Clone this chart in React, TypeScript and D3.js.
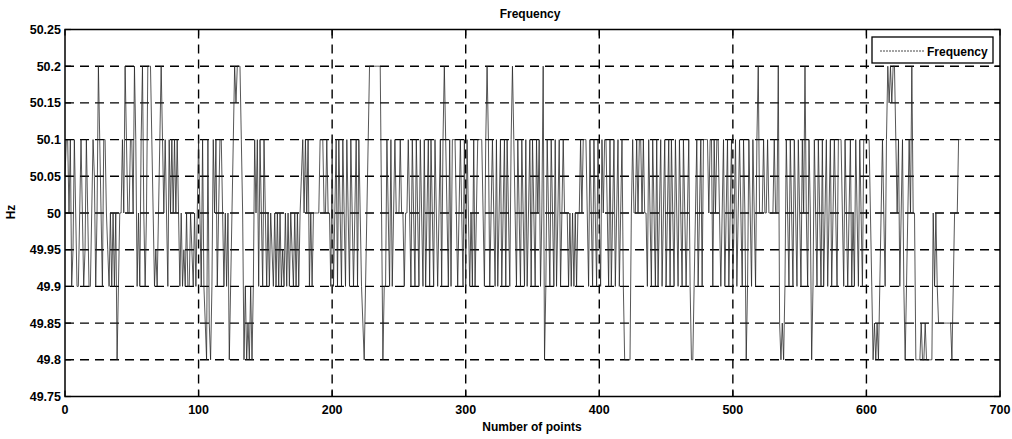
import React from "react";
import { scaleLinear, line } from "d3";

// quantised frequency levels (Hz); the series below stores the level index
const levelHz = [49.8, 49.85, 49.9, 49.95, 50, 50.05, 50.1, 50.15, 50.2];

// one row = 10 samples (0 = 49.8 ... 8 = 50.2)
const freqCode = [
  5, 6, 6, 4, 6, 2, 3, 6, 4, 2,
  2, 4, 6, 4, 2, 3, 6, 4, 2, 2,
  4, 6, 5, 2, 4, 8, 6, 4, 2, 6,
  6, 4, 3, 2, 4, 2, 4, 2, 4, 0,
  2, 4, 4, 6, 4, 8, 6, 4, 4, 6,
  6, 4, 8, 6, 2, 4, 2, 6, 8, 4,
  2, 4, 8, 8, 8, 6, 4, 2, 3, 2,
  4, 6, 8, 6, 4, 6, 4, 2, 6, 4,
  6, 4, 6, 4, 6, 4, 2, 4, 2, 3,
  2, 4, 2, 2, 4, 3, 2, 4, 2, 4,
  6, 4, 2, 6, 2, 1, 0, 6, 1, 0,
  2, 6, 4, 6, 2, 4, 6, 6, 4, 2,
  4, 2, 4, 0, 2, 4, 6, 8, 7, 8,
  8, 8, 6, 4, 0, 2, 0, 1, 0, 2,
  0, 2, 6, 4, 6, 2, 6, 4, 2, 6,
  4, 2, 4, 2, 4, 3, 2, 4, 2, 4,
  2, 4, 2, 3, 2, 4, 2, 4, 2, 4,
  3, 2, 4, 2, 4, 2, 4, 5, 6, 4,
  6, 4, 6, 2, 4, 2, 4, 4, 4, 4,
  4, 6, 6, 6, 4, 4, 6, 4, 4, 2,
  6, 2, 4, 6, 2, 6, 4, 2, 6, 4,
  2, 6, 4, 2, 6, 4, 2, 4, 6, 2,
  6, 4, 2, 1, 0, 2, 4, 6, 8, 8,
  8, 8, 8, 8, 8, 8, 8, 4, 0, 2,
  2, 6, 4, 2, 6, 2, 4, 6, 4, 4,
  4, 6, 4, 4, 2, 4, 4, 6, 4, 2,
  6, 4, 2, 6, 4, 2, 6, 4, 2, 6,
  2, 4, 6, 2, 6, 4, 2, 6, 4, 2,
  4, 6, 2, 6, 8, 6, 4, 2, 6, 2,
  6, 6, 6, 4, 2, 4, 6, 4, 2, 6,
  2, 6, 4, 2, 4, 2, 6, 2, 4, 6,
  6, 6, 6, 4, 2, 6, 8, 6, 2, 4,
  6, 4, 2, 6, 2, 4, 6, 2, 4, 6,
  2, 6, 4, 2, 6, 8, 6, 4, 2, 6,
  4, 2, 6, 4, 2, 6, 2, 4, 6, 2,
  6, 4, 2, 6, 4, 6, 2, 4, 8, 0,
  2, 6, 4, 2, 6, 4, 2, 6, 2, 4,
  6, 2, 4, 6, 4, 4, 4, 2, 4, 2,
  4, 2, 4, 2, 4, 4, 6, 4, 6, 6,
  6, 4, 2, 6, 4, 2, 6, 4, 2, 6,
  4, 2, 6, 4, 6, 6, 4, 2, 6, 2,
  4, 6, 2, 4, 6, 2, 4, 6, 2, 0,
  0, 0, 0, 0, 4, 6, 4, 4, 6, 4,
  6, 6, 4, 6, 4, 4, 2, 6, 4, 2,
  6, 4, 2, 6, 2, 4, 6, 2, 4, 6,
  2, 4, 6, 2, 6, 4, 2, 6, 4, 2,
  6, 4, 2, 6, 4, 2, 4, 6, 2, 0,
  0, 2, 4, 6, 2, 4, 6, 2, 6, 6,
  6, 6, 4, 6, 6, 2, 6, 4, 6, 6,
  4, 2, 4, 6, 2, 4, 6, 2, 4, 6,
  2, 4, 6, 2, 4, 6, 4, 2, 6, 4,
  0, 2, 6, 4, 2, 6, 4, 2, 6, 8,
  4, 4, 4, 6, 4, 4, 6, 4, 4, 4,
  4, 6, 4, 4, 8, 1, 0, 1, 0, 2,
  6, 4, 2, 6, 4, 2, 6, 4, 2, 6,
  4, 2, 6, 4, 8, 4, 2, 6, 4, 0,
  2, 6, 4, 2, 6, 4, 2, 6, 2, 4,
  6, 2, 4, 6, 2, 4, 6, 4, 2, 6,
  6, 6, 4, 2, 6, 4, 2, 4, 6, 2,
  4, 2, 6, 4, 2, 6, 4, 2, 6, 6,
  6, 6, 6, 4, 2, 0, 1, 0, 1, 0,
  2, 4, 6, 4, 2, 6, 8, 7, 8, 7,
  8, 8, 6, 4, 6, 2, 4, 6, 2, 0,
  2, 4, 6, 4, 8, 4, 4, 0, 0, 0,
  0, 1, 0, 0, 1, 0, 0, 0, 0, 0,
  4, 2, 4, 2, 1, 1, 1, 1, 1, 1,
  1, 1, 1, 1, 0, 2, 4, 4, 4, 6,
  6, 6,
];

const freqHz = freqCode.map((c) => levelHz[c]);

const xTicks = [0, 100, 200, 300, 400, 500, 600, 700];
const yTicks = [49.75, 49.8, 49.85, 49.9, 49.95, 50, 50.05, 50.1, 50.15, 50.2, 50.25];
const yTickLabels = ["49.75", "49.8", "49.85", "49.9", "49.95", "50", "50.05", "50.1", "50.15", "50.2", "50.25"];

const W = 1012;
const H = 439;
const left = 65, right = 1000, top = 29.5, bottom = 396.5;
const font = "'Liberation Sans', Arial, Helvetica, sans-serif";

export default function App() {
  const x = scaleLinear().domain([0, 700]).range([left, right]);
  const y = scaleLinear().domain([49.75, 50.25]).range([bottom, top]);

  const path = line<number>()
    .x((_, i) => x(i))
    .y((d) => y(d))(freqHz);

  return (
    <svg
      width={W}
      height={H}
      style={{ position: "absolute", left: 0, top: 0, background: "#fff" }}
    >
      {/* grid */}
      <g stroke="#000" strokeWidth={1.4} strokeDasharray="9,6">
        {xTicks.slice(1, -1).map((t) => (
          <line key={"gx" + t} x1={x(t)} x2={x(t)} y1={top} y2={bottom} />
        ))}
        {yTicks.slice(1, -1).map((t) => (
          <line key={"gy" + t} x1={left} x2={right} y1={y(t)} y2={y(t)} />
        ))}
      </g>

      {/* series */}
      <path d={path ?? ""} fill="none" stroke="#222" strokeWidth={0.85} strokeOpacity={0.9} />

      {/* axes box */}
      <rect x={left} y={top} width={right - left} height={bottom - top} fill="none" stroke="#000" strokeWidth={1.5} />
      <g stroke="#000" strokeWidth={1.2}>
        {xTicks.map((t) => (
          <g key={"tx" + t}>
            <line x1={x(t)} x2={x(t)} y1={bottom} y2={bottom - 6} />
            <line x1={x(t)} x2={x(t)} y1={top} y2={top + 6} />
          </g>
        ))}
        {yTicks.map((t) => (
          <g key={"ty" + t}>
            <line x1={left} x2={left + 6} y1={y(t)} y2={y(t)} />
            <line x1={right} x2={right - 6} y1={y(t)} y2={y(t)} />
          </g>
        ))}
      </g>

      {/* tick labels */}
      <g fontFamily={font} fontSize={12.5} fontWeight="bold" fill="#000">
        {yTicks.map((t, i) => (
          <text key={"ly" + t} x={61} y={y(t)} dy="0.36em" textAnchor="end">
            {yTickLabels[i]}
          </text>
        ))}
        {xTicks.map((t) => (
          <text key={"lx" + t} x={x(t)} y={414} textAnchor="middle">
            {t}
          </text>
        ))}
      </g>

      {/* titles */}
      <g fontFamily={font} fontSize={12} fontWeight="bold" fill="#000">
        <text x={530} y={18} textAnchor="middle">Frequency</text>
        <text x={532} y={431} textAnchor="middle">Number of points</text>
        <text transform="translate(15,212) rotate(-90)" textAnchor="middle">Hz</text>
      </g>

      {/* legend */}
      <rect x={872} y={37} width={121} height={26} fill="#fff" stroke="#000" strokeWidth={1.3} />
      <line x1={880} x2={925} y1={51} y2={51} stroke="#333" strokeWidth={0.9} strokeDasharray="2,1" />
      <text x={927} y={55.5} fontFamily={font} fontSize={12} fontWeight="bold">Frequency</text>
    </svg>
  );
}
